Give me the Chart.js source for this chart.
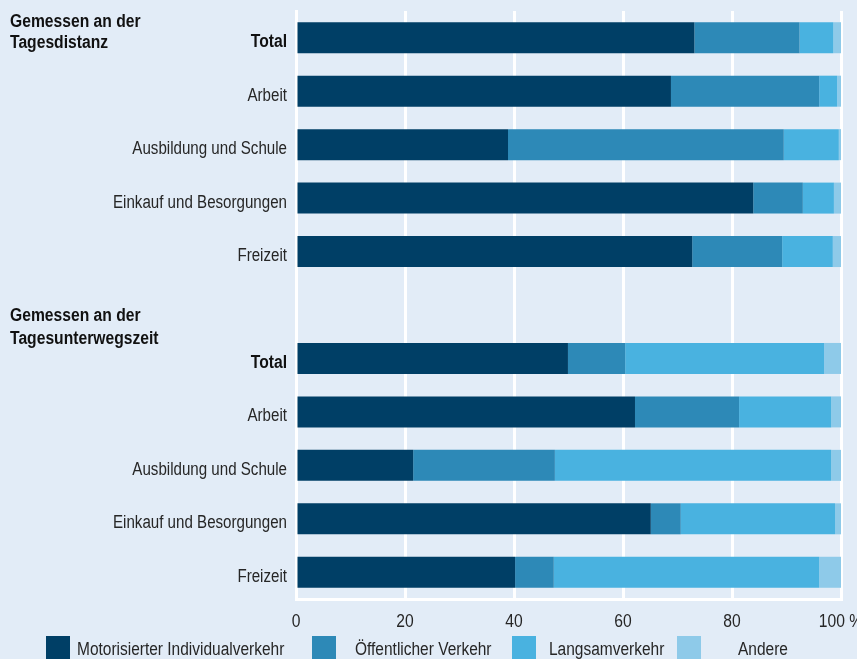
<!DOCTYPE html>
<html lang="de">
<head>
<meta charset="utf-8">
<title>Verkehrsmittelwahl nach Verkehrszweck</title>
<script src="https://cdn.jsdelivr.net/npm/chart.js@4.4.1/dist/chart.umd.min.js"></script>
<style>
  html, body { margin: 0; padding: 0; background: #e2ecf7; }
  #wrap { position: relative; width: 857px; height: 659px; overflow: hidden; background: #e2ecf7; }
</style>
</head>
<body>
<div id="wrap">
  <canvas id="chart" width="857" height="659"></canvas>
</div>
<script>
// Kategorien (leere Zeile trennt die beiden Messgrössen)
const categories = ['Total', 'Arbeit', 'Ausbildung und Schule', 'Einkauf und Besorgungen', 'Freizeit', '',
                    'Total', 'Arbeit', 'Ausbildung und Schule', 'Einkauf und Besorgungen', 'Freizeit'];

// Anteile in %
const motorisiert  = [73.1, 68.8, 38.9, 83.9, 72.7, null, 49.9, 62.2, 21.5, 65.1, 40.2];
const oeffentlich  = [19.3, 27.2, 50.6,  9.1, 16.5, null, 10.5, 19.1, 26.0,  5.5,  7.1];
const langsam      = [ 6.2,  3.3, 10.1,  5.7,  9.3, null, 36.5, 16.9, 50.7, 28.3, 48.7];
const andere       = [ 1.4,  0.7,  0.4,  1.3,  1.5, null,  3.1,  1.8,  1.8,  1.1,  4.0];

const seriesNames = ['Motorisierter Individualverkehr', 'Öffentlicher Verkehr', 'Langsamverkehr', 'Andere'];
const xTickLabels = ['0', '20', '40', '60', '80', '100 %'];
const sectionTitles = [['Gemessen an der', 'Tagesdistanz'], ['Gemessen an der', 'Tagesunterwegszeit']];

const colors = ['#003f66', '#2d89b7', '#49b2e0', '#8ecae9'];
const FONT = '"Liberation Sans", Arial, sans-serif';
const NARROW = 0.87;            // horizontale Stauchung für schmale Schrift
const TEXT = '#262626';

function narrowText(ctx, text, x, y, align, font, color, sx = NARROW) {
  ctx.save();
  ctx.font = font;
  ctx.fillStyle = color;
  ctx.textAlign = align;
  ctx.textBaseline = 'alphabetic';
  ctx.translate(x, y);
  ctx.scale(sx, 1);
  ctx.fillText(text, 0, 0);
  ctx.restore();
}

// Achsenbeschriftungen, Abschnittstitel und Legende in schmaler Schrift
const labelsPlugin = {
  id: 'narrowLabels',
  afterDraw(chart) {
    const ctx = chart.ctx;
    const x = chart.scales.x;
    const y = chart.scales.y;
    const area = chart.chartArea;

    // Kategorien links
    categories.forEach((c, i) => {
      if (!c) return;
      const bold = c === 'Total';
      narrowText(ctx, c, area.left - 9, y.getPixelForValue(i) + 9.5, 'right',
        (bold ? 'bold ' : '') + '18px ' + FONT, bold ? '#111' : TEXT, bold ? NARROW : 0.84);
    });

    // Prozentskala unten
    x.ticks.forEach((t, i) => {
      narrowText(ctx, xTickLabels[i], x.getPixelForValue(t.value), area.bottom + 28, 'center',
        '18px ' + FONT, TEXT);
    });

    // Abschnittstitel
    const anchors = [
      [y.getPixelForValue(0) - 10.5, y.getPixelForValue(0) + 10],
      [y.getPixelForValue(5) + 15.5, y.getPixelForValue(5) + 38.5]
    ];
    sectionTitles.forEach((lines, i) => {
      lines.forEach((t, j) => narrowText(ctx, t, 10, anchors[i][j], 'left', 'bold 18px ' + FONT, '#111'));
    });

    // Legende
    const legendPos = [[46, 77], [312, 355], [512, 549], [677, 738]];
    seriesNames.forEach((name, i) => {
      ctx.fillStyle = colors[i];
      ctx.fillRect(legendPos[i][0], 636, 24, 24);
      narrowText(ctx, name, legendPos[i][1], 655, 'left', '18px ' + FONT, TEXT, 0.86);
    });
  }
};

const datasets = [motorisiert, oeffentlich, langsam, andere].map((d, i) => ({
  label: seriesNames[i],
  data: d,
  backgroundColor: colors[i],
  borderWidth: 0,
  categoryPercentage: 1.0,
  barPercentage: 0.58
}));

new Chart(document.getElementById('chart'), {
  type: 'bar',
  data: { labels: categories, datasets },
  options: {
    indexAxis: 'y',
    responsive: false,
    animation: false,
    layout: { padding: { left: 0, right: 16, top: 11, bottom: 0 } },
    plugins: { legend: { display: false }, tooltip: { enabled: false } },
    scales: {
      x: {
        stacked: true,
        min: 0, max: 100,
        afterBuildTicks(scale) {
          scale.ticks = xTickLabels.map((_, i) => ({ value: i * 20 }));
        },
        afterFit(scale) {
          scale.height = 60;
          scale.paddingLeft = 0;
          scale.paddingRight = 0;
        },
        ticks: { display: false },
        grid: { color: '#ffffff', lineWidth: 3, drawTicks: false },
        border: { display: true, color: '#ffffff', width: 3 }
      },
      y: {
        stacked: true,
        afterFit(scale) { scale.width = 296; },
        ticks: { display: false },
        grid: { display: false, drawTicks: false },
        border: { display: true, color: '#ffffff', width: 3 }
      }
    }
  },
  plugins: [labelsPlugin]
});
</script>
</body>
</html>
